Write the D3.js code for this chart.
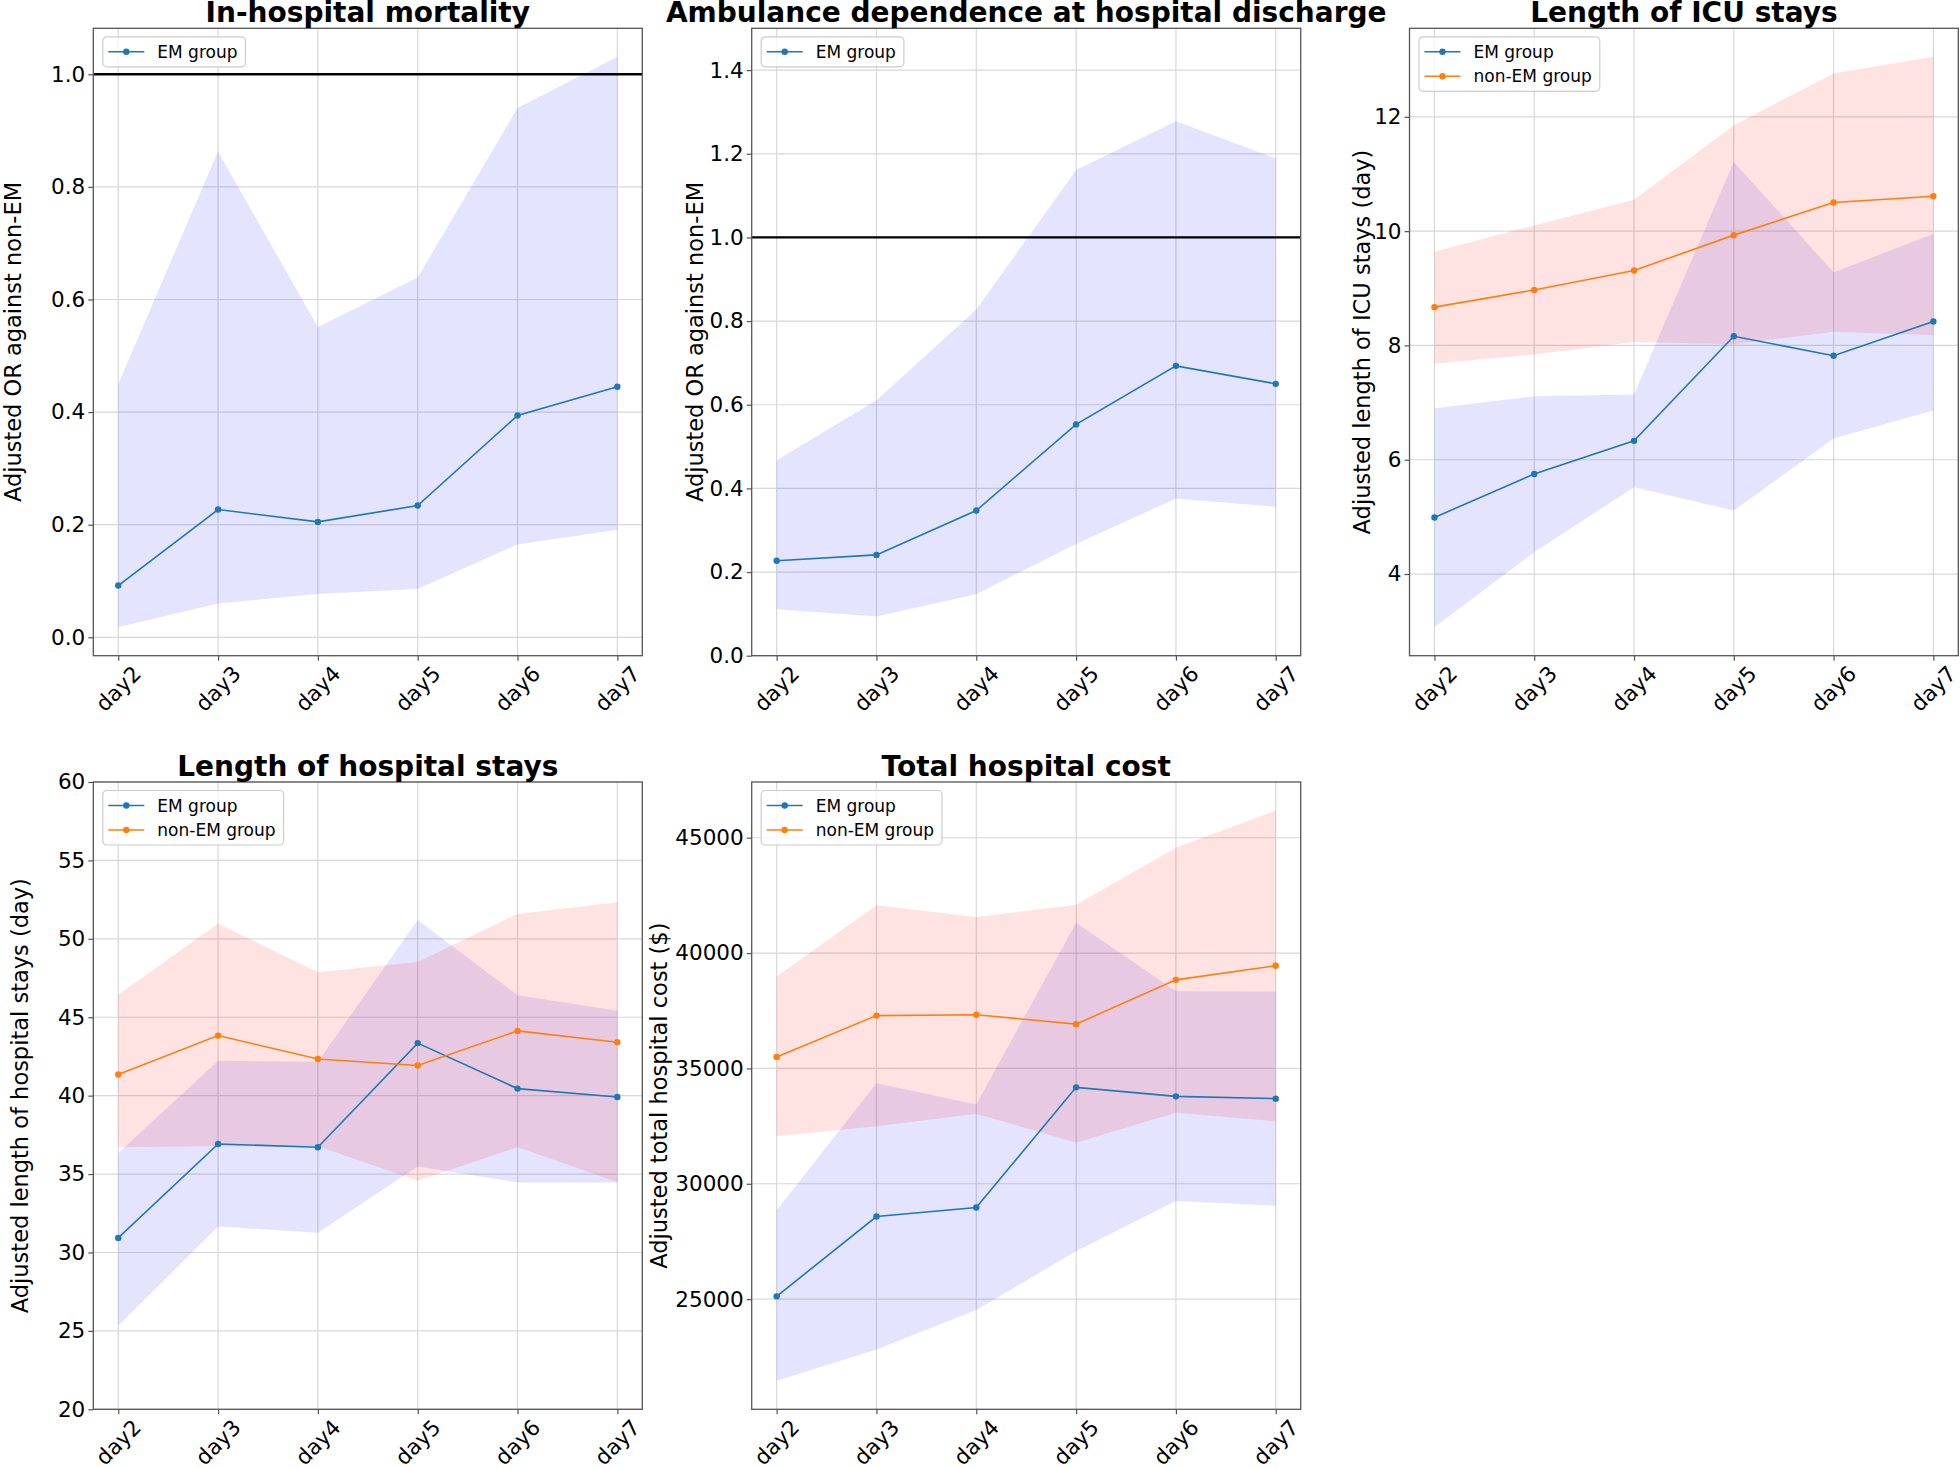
<!DOCTYPE html>
<html>
<head>
<meta charset="utf-8">
<script src="https://cdn.jsdelivr.net/npm/d3@7"></script>
<style>
  html, body { margin: 0; padding: 0; background: #ffffff; }
  svg { display: block; font-family: "DejaVu Sans", sans-serif; }
</style>
</head>
<body>
<svg id="chart" width="1960" height="1467"></svg>
<script>
// ---------------- data ----------------
const days = ["day2", "day3", "day4", "day5", "day6", "day7"];

// In-hospital mortality (adjusted OR, EM vs non-EM)
const mortEM   = [0.092, 0.227, 0.205, 0.234, 0.394, 0.445];
const mortEMlo = [0.018, 0.060, 0.077, 0.086, 0.165, 0.191];
const mortEMhi = [0.450, 0.863, 0.551, 0.639, 0.940, 1.031];
const mortTicks = [0.0, 0.2, 0.4, 0.6, 0.8, 1.0];

// Ambulance dependence at hospital discharge (adjusted OR)
const ambEM   = [0.227, 0.241, 0.347, 0.553, 0.693, 0.650];
const ambEMlo = [0.111, 0.094, 0.147, 0.267, 0.376, 0.356];
const ambEMhi = [0.467, 0.611, 0.828, 1.161, 1.278, 1.189];
const ambTicks = [0.0, 0.2, 0.4, 0.6, 0.8, 1.0, 1.2, 1.4];

// Length of ICU stays (day)
const icuEM    = [4.99, 5.75, 6.33, 8.16, 7.82, 8.42];
const icuEMlo  = [3.07, 4.38, 5.52, 5.11, 6.37, 6.86];
const icuEMhi  = [6.90, 7.11, 7.14, 11.21, 9.28, 9.95];
const icuNon   = [8.67, 8.97, 9.31, 9.93, 10.50, 10.61];
const icuNonLo = [7.68, 7.84, 8.06, 8.02, 8.24, 8.18];
const icuNonHi = [9.64, 10.10, 10.55, 11.85, 12.76, 13.05];
const icuTicks = [4, 6, 8, 10, 12];

// Length of hospital stays (day)
const losEM    = [30.93, 36.92, 36.71, 43.35, 40.45, 39.91];
const losEMlo  = [25.33, 31.65, 31.26, 35.48, 34.46, 34.46];
const losEMhi  = [36.35, 42.22, 42.16, 51.20, 46.41, 45.42];
const losNon   = [41.35, 43.83, 42.34, 41.92, 44.13, 43.41];
const losNonLo = [36.71, 36.77, 36.77, 34.58, 36.71, 34.49];
const losNonHi = [46.44, 50.96, 47.87, 48.53, 51.59, 52.34];
const losTicks = [20, 25, 30, 35, 40, 45, 50, 55, 60];

// Total hospital cost ($)
const costEM    = [25120, 28580, 28970, 34180, 33790, 33690];
const costEMlo  = [21460, 22820, 24530, 27080, 29250, 29050];
const costEMhi  = [28850, 34360, 33440, 41320, 38350, 38330];
const costNon   = [35500, 37290, 37330, 36920, 38840, 39450];
const costNonLo = [32060, 32490, 33040, 31780, 33080, 32710];
const costNonHi = [38980, 42070, 41560, 42090, 44570, 46180];
const costTicks = [25000, 30000, 35000, 40000, 45000];

const seriesNames = ["EM group", "non-EM group"];

// ---------------- panels ----------------
const panels = [
  { title: "In-hospital mortality", ylabel: "Adjusted OR against non-EM",
    box: [93.3, 28.3, 642.3, 655.7], labelX: 12.5,
    series: [{ mean: mortEM, lo: mortEMlo, hi: mortEMhi }],
    ticks: mortTicks, fmt: d3.format(".1f"), hline: 1.0, domain: null },
  { title: "Ambulance dependence at hospital discharge", ylabel: "Adjusted OR against non-EM",
    box: [751.7, 28.3, 1300.7, 655.7], labelX: 695,
    series: [{ mean: ambEM, lo: ambEMlo, hi: ambEMhi }],
    ticks: ambTicks, fmt: d3.format(".1f"), hline: 1.0, domain: [0, 1.5] },
  { title: "Length of ICU stays", ylabel: "Adjusted length of ICU stays (day)",
    box: [1409.5, 28.3, 1958.3, 655.7], labelX: 1362,
    series: [{ mean: icuEM, lo: icuEMlo, hi: icuEMhi },
             { mean: icuNon, lo: icuNonLo, hi: icuNonHi }],
    ticks: icuTicks, fmt: d3.format("d"), hline: null, domain: null },
  { title: "Length of hospital stays", ylabel: "Adjusted length of hospital stays (day)",
    box: [93.3, 782, 642.3, 1409.3], labelX: 19.5,
    series: [{ mean: losEM, lo: losEMlo, hi: losEMhi },
             { mean: losNon, lo: losNonLo, hi: losNonHi }],
    ticks: losTicks, fmt: d3.format("d"), hline: null, domain: [20, 60] },
  { title: "Total hospital cost", ylabel: "Adjusted total hospital cost ($)",
    box: [751.7, 782, 1300.7, 1409.3], labelX: 659,
    series: [{ mean: costEM, lo: costEMlo, hi: costEMhi },
             { mean: costNon, lo: costNonLo, hi: costNonHi }],
    ticks: costTicks, fmt: d3.format("d"), hline: null, domain: null }
];

const lineColors = ["#1f77b4", "#ff7f0e"];
const fillColors = ["#0000ff", "#ff0000"];
const fillOpacity = [0.105, 0.115];
const spineColor = "#555555";
const gridColor = "#d8d8d8";
const tickFont = 21.5;

const svg = d3.select("#chart");
svg.append("rect").attr("width", 1960).attr("height", 1467).attr("fill", "#fff");

panels.forEach(p => {
  const [x0, y0, x1, y1] = p.box;
  const g = svg.append("g");

  const x = d3.scalePoint().domain(days).range([x0, x1]).padding(0.25);

  let dom = p.domain;
  if (!dom) {
    const all = [];
    p.series.forEach(s => { all.push(...s.lo, ...s.hi, ...s.mean); });
    if (p.hline != null) all.push(p.hline);
    const mn = d3.min(all), mx = d3.max(all), m = (mx - mn) * 0.05;
    dom = [mn - m, mx + m];
  }
  const y = d3.scaleLinear().domain(dom).range([y1, y0]);

  // grid
  g.append("g").selectAll("line").data(days).join("line")
    .attr("x1", d => x(d)).attr("x2", d => x(d))
    .attr("y1", y0).attr("y2", y1)
    .attr("stroke", gridColor).attr("stroke-width", 1.2);
  g.append("g").selectAll("line").data(p.ticks).join("line")
    .attr("x1", x0).attr("x2", x1)
    .attr("y1", d => y(d)).attr("y2", d => y(d))
    .attr("stroke", gridColor).attr("stroke-width", 1.2);

  // clip
  const clipId = "clip" + Math.round(x0) + "_" + Math.round(y0);
  svg.append("clipPath").attr("id", clipId).append("rect")
    .attr("x", x0).attr("y", y0).attr("width", x1 - x0).attr("height", y1 - y0);
  const plot = g.append("g").attr("clip-path", `url(#${clipId})`);

  // bands
  p.series.forEach((s, i) => {
    const area = d3.area()
      .x((d, j) => x(days[j]))
      .y0((d, j) => y(s.lo[j]))
      .y1((d, j) => y(s.hi[j]));
    plot.append("path").datum(s.mean).attr("d", area)
      .attr("fill", fillColors[i]).attr("fill-opacity", fillOpacity[i]);
  });

  // hline
  if (p.hline != null) {
    plot.append("line").attr("x1", x0).attr("x2", x1)
      .attr("y1", y(p.hline)).attr("y2", y(p.hline))
      .attr("stroke", "#000").attr("stroke-width", 2.3);
  }

  // lines + markers
  p.series.forEach((s, i) => {
    const line = d3.line().x((d, j) => x(days[j])).y(d => y(d));
    plot.append("path").datum(s.mean).attr("d", line)
      .attr("fill", "none").attr("stroke", lineColors[i]).attr("stroke-width", 1.6);
    plot.append("g").selectAll("circle").data(s.mean).join("circle")
      .attr("cx", (d, j) => x(days[j])).attr("cy", d => y(d)).attr("r", 3.2)
      .attr("fill", lineColors[i]);
  });

  // spines
  g.append("rect").attr("x", x0).attr("y", y0).attr("width", x1 - x0).attr("height", y1 - y0)
    .attr("fill", "none").attr("stroke", spineColor).attr("stroke-width", 1.3);

  // y axis
  const ya = g.append("g").attr("transform", `translate(${x0},0)`)
    .call(d3.axisLeft(y).tickValues(p.ticks).tickFormat(p.fmt).tickSize(5).tickPadding(3));
  ya.select(".domain").remove();
  ya.selectAll(".tick line").attr("stroke", spineColor).attr("stroke-width", 1.2);
  ya.selectAll(".tick text").attr("font-size", tickFont).attr("fill", "#000")
    .attr("font-family", "DejaVu Sans");

  // x axis ticks
  const xa = g.append("g").attr("transform", `translate(0,${y1})`)
    .call(d3.axisBottom(x).tickSize(5).tickFormat(""));
  xa.select(".domain").remove();
  xa.selectAll(".tick line").attr("stroke", spineColor).attr("stroke-width", 1.2);
  // rotated labels
  g.append("g").selectAll("text").data(days).join("text")
    .attr("transform", d => `translate(${x(d)},${y1 + 33}) rotate(-45)`)
    .attr("text-anchor", "middle").attr("dominant-baseline", "central")
    .attr("font-size", tickFont).attr("fill", "#000")
    .text(d => d);

  // title
  g.append("text").attr("x", (x0 + x1) / 2).attr("y", y0 - 6)
    .attr("text-anchor", "middle").attr("font-size", 28).attr("font-weight", "bold")
    .attr("fill", "#000").text(p.title);

  // y label
  g.append("text")
    .attr("transform", `translate(${p.labelX},${(y0 + y1) / 2}) rotate(-90)`)
    .attr("text-anchor", "middle").attr("dominant-baseline", "central")
    .attr("font-size", 22.5).attr("fill", "#000").text(p.ylabel);

  // legend
  const lg = g.append("g").attr("transform", `translate(${x0 + 9.5},${y0 + 8.5})`);
  const n = p.series.length;
  const box = lg.append("rect").attr("rx", 4).attr("ry", 4)
    .attr("fill", "#fff").attr("fill-opacity", 0.8)
    .attr("stroke", "#cccccc").attr("stroke-width", 1.2);
  let maxW = 0;
  for (let i = 0; i < n; i++) {
    const cy = 15 + i * 24.5;
    lg.append("line").attr("x1", 5.5).attr("x2", 41.5).attr("y1", cy).attr("y2", cy)
      .attr("stroke", lineColors[i]).attr("stroke-width", 1.6);
    lg.append("circle").attr("cx", 23.5).attr("cy", cy).attr("r", 3.2).attr("fill", lineColors[i]);
    const t = lg.append("text").attr("x", 54.5).attr("y", cy)
      .attr("dominant-baseline", "central").attr("font-size", 17).attr("fill", "#000")
      .text(seriesNames[i]);
    maxW = Math.max(maxW, t.node().getComputedTextLength());
  }
  box.attr("x", 0).attr("y", 0).attr("width", 54.5 + maxW + 8).attr("height", 30 + (n - 1) * 24.5);
});
</script>
</body>
</html>
